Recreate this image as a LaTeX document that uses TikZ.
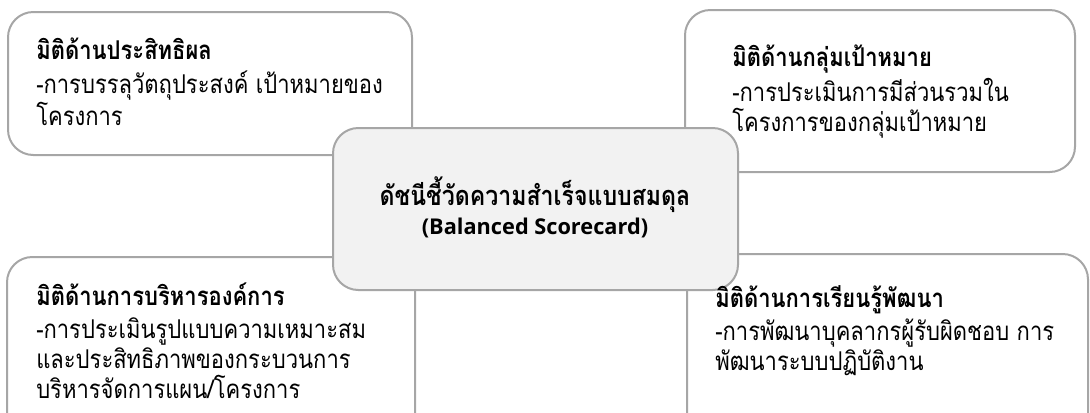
\documentclass[tikz,border=0pt]{standalone}
\usepackage{fontspec}
\setmainfont[Script=Thai, FakeStretch=0.85]{Loma}
\newfontfamily\latinfont{Open Sans}
\definecolor{boxgray}{HTML}{A6A6A6}
\definecolor{centerfill}{HTML}{F2F2F2}
\tikzset{
  box/.style={draw=boxgray, line width=1.5pt, rounded corners=19pt, fill=white},
  head/.style={anchor=base west, inner sep=0pt, font=\fontsize{19.4}{22.5}\selectfont\bfseries},
  txt/.style={anchor=base west, inner sep=0pt, align=left, font=\fontsize{19.4}{22.5}\selectfont},
  cthai/.style={anchor=base, inner sep=0pt, font=\fontsize{20.4}{19}\selectfont\bfseries},
  clat/.style={anchor=base, inner sep=0pt, font=\fontsize{16.3}{19}\selectfont\latinfont\bfseries},
}
\begin{document}
\begin{tikzpicture}[x=0.75pt,y=-0.75pt]
\useasboundingbox (0,0) rectangle (1090,412);
\clip (0,0) rectangle (1090,412);
\path[box] (8,12) rectangle (412,155);
\path[box] (685,10) rectangle (1075,172);
\path[box] (7,257) rectangle (415,445);
\path[box] (687,254) rectangle (1088,445);
\path[box, fill=centerfill] (333,128) rectangle (738,290);
\node[head] (tlhead) at (36,59) {มิติด้านประสิทธิผล};
\node[txt] (tltext) at (36,125) {-การบรรลุวัตถุประสงค์ เป้าหมายของ\\โครงการ};
\node[head] (trhead) at (732,66) {มิติด้านกลุ่มเป้าหมาย};
\node[txt] (trtext) at (732,131) {-การประเมินการมีส่วนรวมใน\\โครงการของกลุ่มเป้าหมาย};
\node[head] (blhead) at (36,305) {มิติด้านการบริหารองค์การ};
\node[txt] (bltext) at (36,398) {-การประเมินรูปแบบความเหมาะสม\\และประสิทธิภาพของกระบวนการ\\บริหารจัดการแผน/โครงการ};
\node[head] (brhead) at (715,307) {มิติด้านการเรียนรู้พัฒนา};
\node[txt] (brtext) at (715,370) {-การพัฒนาบุคลากรผู้รับผิดชอบ การ\\พัฒนาระบบปฏิบัติงาน};
\node[cthai] (cthai) at (535,205) {ดัชนีชี้วัดความสำเร็จแบบสมดุล};
\node[clat] (clat) at (535,234) {(Balanced Scorecard)};
\end{tikzpicture}
\end{document}
